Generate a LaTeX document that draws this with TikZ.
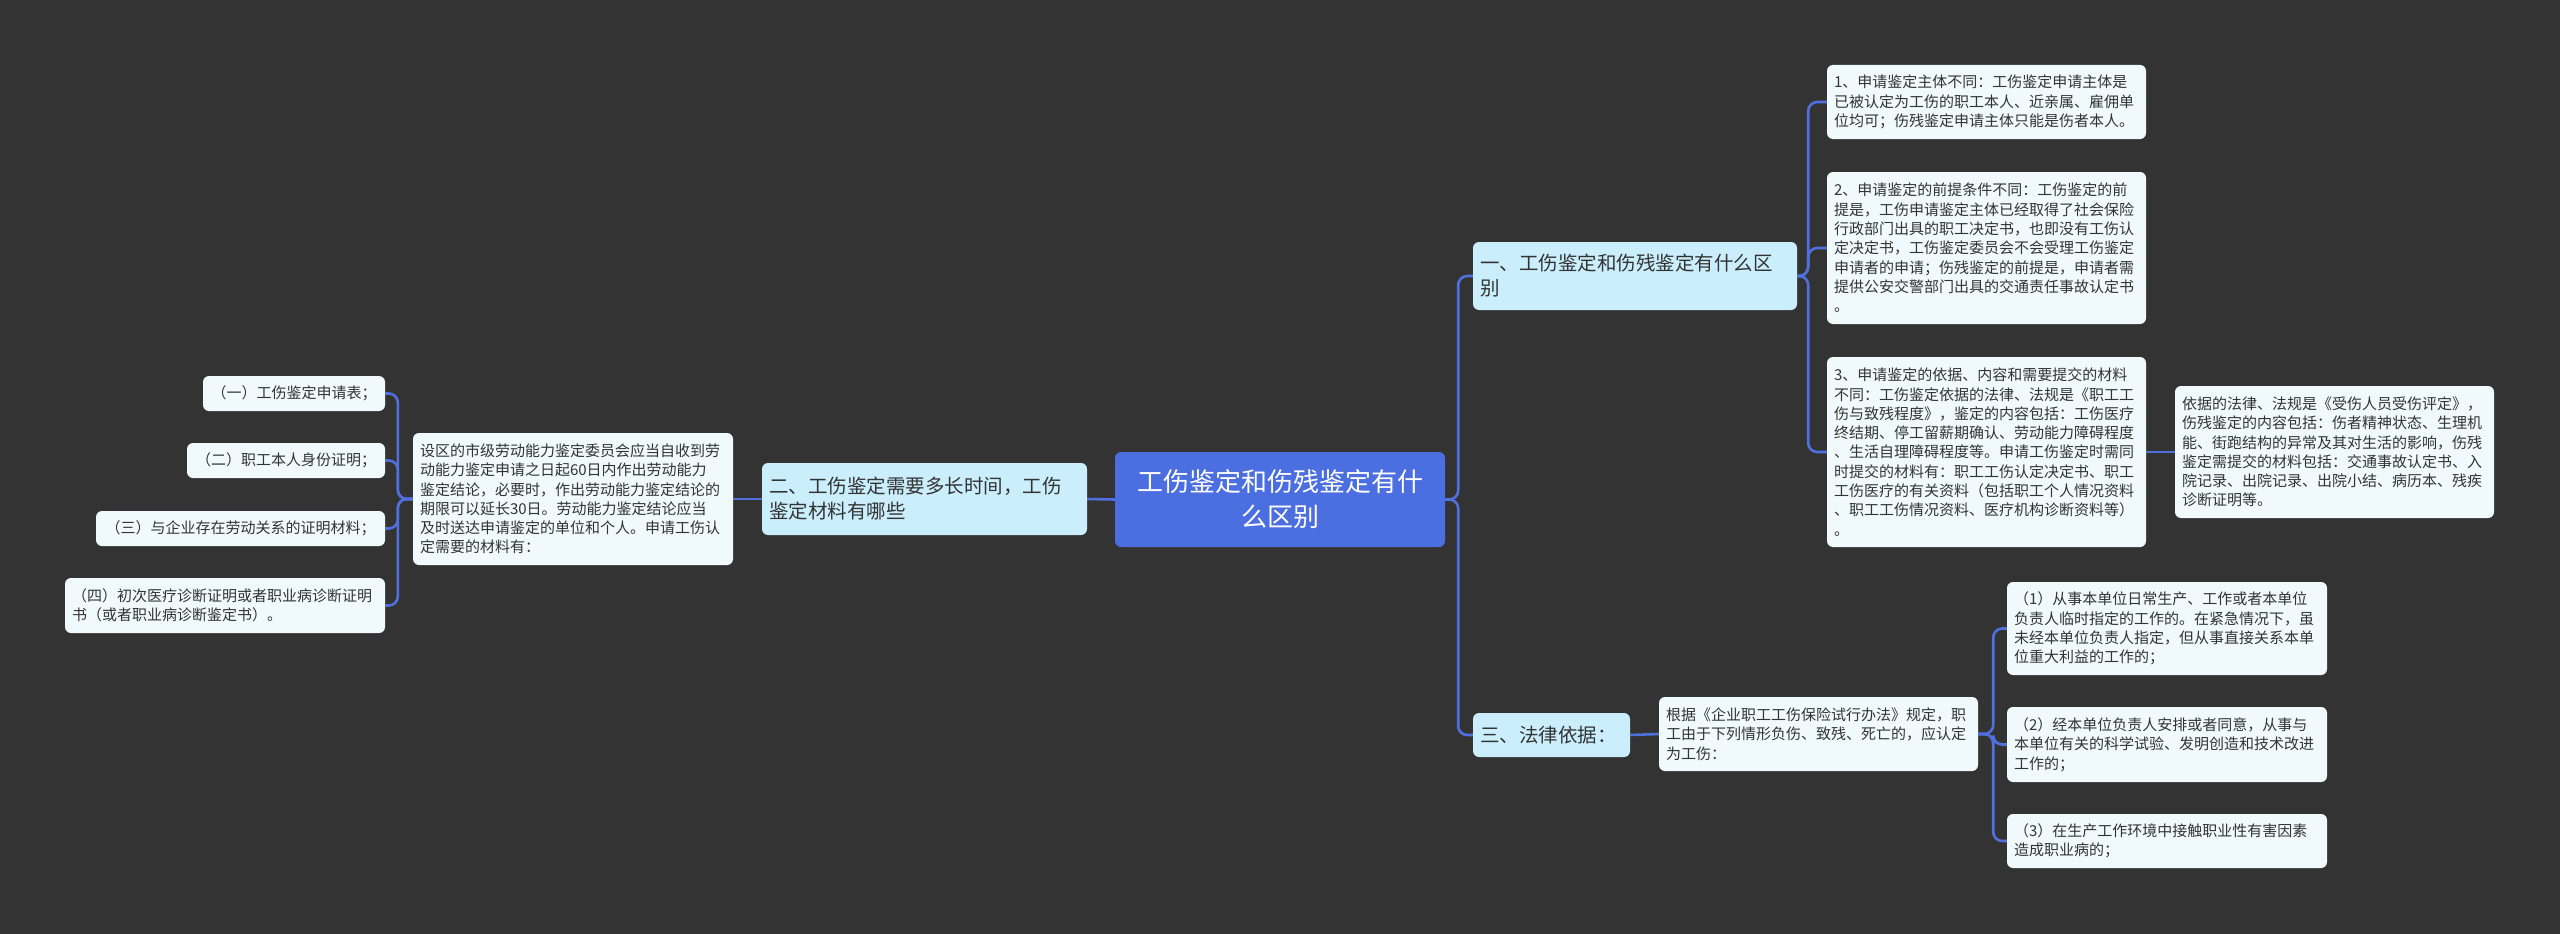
\documentclass[tikz,border=0pt]{standalone}
\usepackage{fontspec}
\setmainfont{Noto Sans CJK SC}
\definecolor{bg}{RGB}{51,51,51}
\definecolor{rootfill}{RGB}{75,110,224}
\definecolor{lonefill}{RGB}{202,238,252}
\definecolor{leaffill}{RGB}{240,250,253}
\definecolor{linec}{RGB}{80,112,224}
\definecolor{txt}{RGB}{51,51,51}
\tikzset{
  box/.style={rounded corners=6pt, inner xsep=7pt, inner ysep=0pt, align=left, text=txt},
  rootbox/.style={box, fill=rootfill, text=white, align=center,
     font=\fontsize{26}{35}\selectfont},
  lonebox/.style={box, fill=lonefill, font=\fontsize{19.5}{25}\selectfont},
  leafbox/.style={box, fill=leaffill, font=\fontsize{15}{19.3}\selectfont},
  conn/.style={draw=linec, line width=2.6pt, rounded corners=9pt},
}
\begin{document}
\begin{tikzpicture}[x=1pt,y=-1pt]
\fill[bg] (0,0) rectangle (2560,934);
\useasboundingbox (0,0) rectangle (2560,934);

% root
\node[rootbox, minimum width=330, minimum height=95, text width=316] (C) at (1280,499.5)
  {工伤鉴定和伤残鉴定有什\\么区别};

% level 1
\node[lonebox, minimum width=324, minimum height=68, text width=310] (L1a) at (1635,276)
  {一、工伤鉴定和伤残鉴定有什么区\\别};
\node[lonebox, minimum width=325, minimum height=72, text width=311] (L1b) at (924.5,499)
  {二、工伤鉴定需要多长时间，工伤\\鉴定材料有哪些};
\node[lonebox, minimum width=157, minimum height=44, text width=143] (L1c) at (1551.5,735)
  {三、法律依据：};

% branch one leaves
\node[leafbox, minimum width=319, minimum height=74, text width=305] (A1) at (1986.5,102)
  {1、申请鉴定主体不同：工伤鉴定申请主体是\\已被认定为工伤的职工本人、近亲属、雇佣单\\位均可；伤残鉴定申请主体只能是伤者本人。};
\node[leafbox, minimum width=319, minimum height=152, text width=305] (A2) at (1986.5,248)
  {2、申请鉴定的前提条件不同：工伤鉴定的前\\提是，工伤申请鉴定主体已经取得了社会保险\\行政部门出具的职工决定书，也即没有工伤认\\定决定书，工伤鉴定委员会不会受理工伤鉴定\\申请者的申请；伤残鉴定的前提是，申请者需\\提供公安交警部门出具的交通责任事故认定书\\。};
\node[leafbox, minimum width=319, minimum height=190, text width=305] (A3) at (1986.5,452)
  {3、申请鉴定的依据、内容和需要提交的材料\\不同：工伤鉴定依据的法律、法规是《职工工\\伤与致残程度》，鉴定的内容包括：工伤医疗\\终结期、停工留薪期确认、劳动能力障碍程度\\、生活自理障碍程度等。申请工伤鉴定时需同\\时提交的材料有：职工工伤认定决定书、职工\\工伤医疗的有关资料（包括职工个人情况资料\\、职工工伤情况资料、医疗机构诊断资料等）\\。};
\node[leafbox, minimum width=319, minimum height=132, text width=305] (A3c) at (2334.5,452)
  {依据的法律、法规是《受伤人员受伤评定》，\\伤残鉴定的内容包括：伤者精神状态、生理机\\能、街跑结构的异常及其对生活的影响，伤残\\鉴定需提交的材料包括：交通事故认定书、入\\院记录、出院记录、出院小结、病历本、残疾\\诊断证明等。};

% branch two
\node[leafbox, minimum width=320, minimum height=132, text width=306] (B) at (573,499)
  {设区的市级劳动能力鉴定委员会应当自收到劳\\动能力鉴定申请之日起60日内作出劳动能力\\鉴定结论，必要时，作出劳动能力鉴定结论的\\期限可以延长30日。劳动能力鉴定结论应当\\及时送达申请鉴定的单位和个人。申请工伤认\\定需要的材料有：};
\node[leafbox, minimum width=182, minimum height=35, align=center] (B1) at (294,393.5)
  {（一）工伤鉴定申请表；};
\node[leafbox, minimum width=198, minimum height=35, align=center] (B2) at (286,460.5)
  {（二）职工本人身份证明；};
\node[leafbox, minimum width=289, minimum height=35, align=center] (B3) at (240.5,528.5)
  {（三）与企业存在劳动关系的证明材料；};
\node[leafbox, minimum width=320, minimum height=55, text width=306] (B4) at (225,605.5)
  {（四）初次医疗诊断证明或者职业病诊断证明\\书（或者职业病诊断鉴定书）。};

% branch three
\node[leafbox, minimum width=319, minimum height=74, text width=305] (Ct) at (1818.5,734)
  {根据《企业职工工伤保险试行办法》规定，职\\工由于下列情形负伤、致残、死亡的，应认定\\为工伤：};
\node[leafbox, minimum width=320, minimum height=93, text width=306] (C1) at (2167,628.5)
  {（1）从事本单位日常生产、工作或者本单位\\负责人临时指定的工作的。在紧急情况下，虽\\未经本单位负责人指定，但从事直接关系本单\\位重大利益的工作的；};
\node[leafbox, minimum width=320, minimum height=75, text width=306] (C2) at (2167,744.5)
  {（2）经本单位负责人安排或者同意，从事与\\本单位有关的科学试验、发明创造和技术改进\\工作的；};
\node[leafbox, minimum width=320, minimum height=54, text width=306] (C3) at (2167,841)
  {（3）在生产工作环境中接触职业性有害因素\\造成职业病的；};

% connectors
\draw[conn] (C.west) -- (L1b.east);
\draw[conn] (C.east) -- ++(13,0) |- (L1a.west);
\draw[conn] (C.east) -- ++(13,0) |- (L1c.west);
\draw[conn] (L1a.east) -- ++(11,0) |- (A1.west);
\draw[conn] (L1a.east) -- ++(11,0) |- (A2.west);
\draw[conn] (L1a.east) -- ++(11,0) |- (A3.west);
\draw[conn] (A3.east) -- (A3c.west);
\draw[conn] (L1b.west) -- (B.east);
\draw[conn] (B.west) -- ++(-15,0) |- (B1.east);
\draw[conn] (B.west) -- ++(-15,0) |- (B2.east);
\draw[conn] (B.west) -- ++(-15,0) |- (B3.east);
\draw[conn] (B.west) -- ++(-15,0) |- (B4.east);
\draw[conn] (L1c.east) -- (Ct.west);
\draw[conn] (Ct.east) -- ++(15,0) |- (C1.west);
\draw[conn] (Ct.east) -- ++(15,0) |- (C2.west);
\draw[conn] (Ct.east) -- ++(15,0) |- (C3.west);
\end{tikzpicture}
\end{document}
